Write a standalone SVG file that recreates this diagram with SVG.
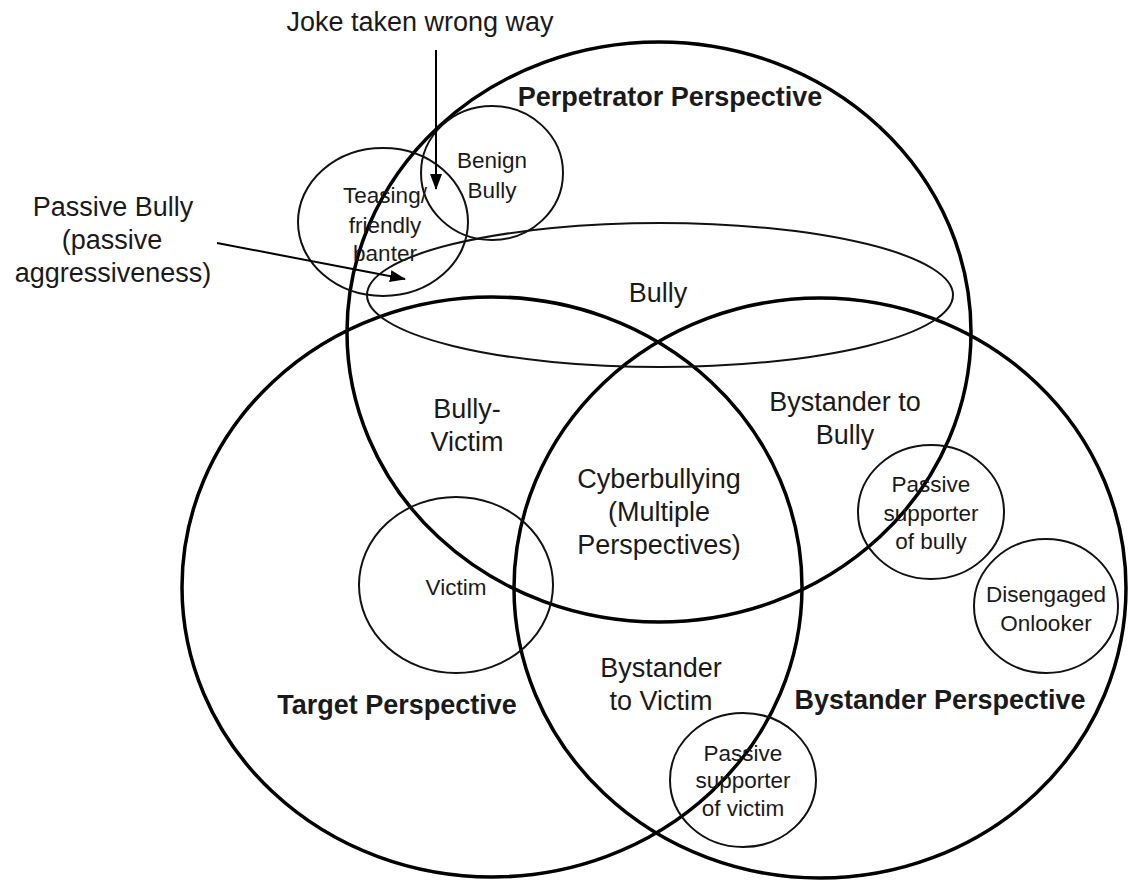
<svg xmlns="http://www.w3.org/2000/svg" width="1130" height="880" viewBox="0 0 1130 880">
<defs>
<style>
.big{fill:none;stroke:#000;stroke-width:3.5}
.small{fill:none;stroke:#111;stroke-width:2}
text{font-family:"Liberation Sans",Arial,Helvetica,sans-serif;fill:#1a1a1a;text-anchor:middle}
.t{font-size:27px}
.s{font-size:22.5px}
.b{font-size:27px;font-weight:bold}
.conn{fill:none;stroke:#000;stroke-width:2}
</style>
<marker id="ah" viewBox="0 0 16 12" refX="15" refY="6" markerWidth="16" markerHeight="12" markerUnits="userSpaceOnUse" orient="auto">
<path d="M0,0 L16,6 L0,12 z" fill="#000"/>
</marker>
</defs>
<rect width="1130" height="880" fill="#fff"/>

<g id="perpetrator-perspective">
<ellipse class="big" cx="659" cy="332" rx="312" ry="290"/>
<text class="b" x="670" y="106">Perpetrator Perspective</text>
</g>
<g id="target-perspective">
<ellipse class="big" cx="492" cy="587" rx="310" ry="290"/>
<text class="b" x="397" y="714">Target Perspective</text>
</g>
<g id="bystander-perspective">
<ellipse class="big" cx="820" cy="588" rx="306" ry="290"/>
<text class="b" x="940" y="709">Bystander Perspective</text>
</g>
<g id="bully">
<ellipse class="small" cx="660" cy="295" rx="293" ry="72"/>
<text class="t" x="658" y="302">Bully</text>
</g>
<g id="benign-bully">
<ellipse class="small" cx="492" cy="173" rx="71" ry="67"/>
<text class="s" x="492" y="168">Benign</text>
<text class="s" x="492" y="198">Bully</text>
</g>
<g id="teasing">
<ellipse class="small" cx="383" cy="222" rx="85" ry="74"/>
<text class="s" x="385" y="203">Teasing/</text>
<text class="s" x="385" y="233">friendly</text>
<text class="s" x="385" y="261">banter</text>
</g>
<g id="victim">
<ellipse class="small" cx="456" cy="585" rx="97" ry="88"/>
<text class="s" x="456" y="595">Victim</text>
</g>
<g id="passive-supporter-bully">
<ellipse class="small" cx="931" cy="512" rx="73" ry="67"/>
<text class="s" x="931" y="492">Passive</text>
<text class="s" x="931" y="521">supporter</text>
<text class="s" x="931" y="549">of bully</text>
</g>
<g id="disengaged-onlooker">
<ellipse class="small" cx="1046" cy="606" rx="72" ry="67"/>
<text class="s" x="1046" y="602">Disengaged</text>
<text class="s" x="1046" y="631">Onlooker</text>
</g>
<g id="passive-supporter-victim">
<ellipse class="small" cx="743" cy="780" rx="73" ry="67"/>
<text class="s" x="743" y="761">Passive</text>
<text class="s" x="743" y="788">supporter</text>
<text class="s" x="743" y="816">of victim</text>
</g>
<g id="bully-victim">
<text class="t" x="467" y="418">Bully-</text>
<text class="t" x="467" y="451">Victim</text>
</g>
<g id="bystander-to-bully">
<text class="t" x="845" y="411">Bystander to</text>
<text class="t" x="845" y="444">Bully</text>
</g>
<g id="cyberbullying">
<text class="t" x="659" y="488">Cyberbullying</text>
<text class="t" x="659" y="521">(Multiple</text>
<text class="t" x="659" y="554">Perspectives)</text>
</g>
<g id="bystander-to-victim">
<text class="t" x="661" y="677">Bystander</text>
<text class="t" x="661" y="710">to Victim</text>
</g>
<g id="joke-label">
<text class="t" x="420" y="31">Joke taken wrong way</text>
</g>
<g id="passive-bully-label">
<text class="t" x="113" y="216">Passive Bully</text>
<text class="t" x="112" y="249">(passive</text>
<text class="t" x="113" y="282">aggressiveness)</text>
</g>

<g id="connectors">
<path class="conn" d="M436,50 L436,189" marker-end="url(#ah)"/>
<path class="conn" d="M217,243 L405,279" marker-end="url(#ah)"/>
</g>
</svg>
